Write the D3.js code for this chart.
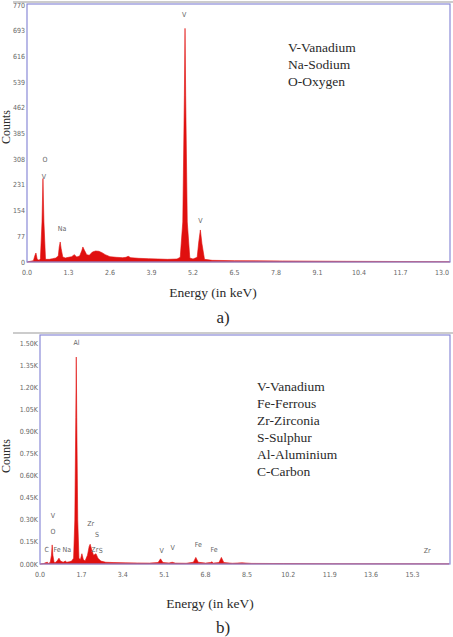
<!DOCTYPE html>
<html>
  <head>
    <meta charset="utf-8">
    <style>
      body { margin: 0; background: white; }
      .tick { font-family: "Liberation Sans Narrow", "DejaVu Sans Condensed", sans-serif; font-size: 7px; fill: #666; }
      .title { font-family: "Liberation Serif", "DejaVu Serif", serif; fill: #2a2a2a; }
      .pk { font-family: "Liberation Sans Narrow", "DejaVu Sans Condensed", sans-serif; font-size: 7px; fill: #666; }
    </style>
  </head>
  <body>
    <div id="chart"></div>
    <script src="https://d3js.org/d3.v7.min.js"></script>
    <script>
      // panel a spectrum [keV, counts]
      var specA = [
        [0.0,0],[0.1,2],[0.2,4],[0.25,20],[0.28,27],[0.32,8],[0.38,5],[0.42,10],[0.47,120],[0.5,250],
        [0.53,120],[0.58,8],[0.7,8],[0.8,10],[0.9,12],[0.98,18],[1.01,45],[1.04,60],[1.07,40],[1.12,15],
        [1.2,12],[1.3,14],[1.4,16],[1.48,22],[1.56,15],[1.65,18],[1.72,35],[1.75,45],[1.8,35],[1.87,22],
        [1.95,20],[2.05,30],[2.15,33],[2.25,32],[2.35,28],[2.45,22],[2.6,16],[2.8,14],[3.0,13],[3.1,14],
        [3.17,17],[3.25,13],[3.5,11],[3.8,10],[4.1,9],[4.4,8],[4.7,9],[4.8,14],[4.88,120],[4.93,500],
        [4.95,700],[4.97,500],[5.02,120],[5.1,12],[5.2,9],[5.33,14],[5.38,60],[5.43,96],[5.48,55],[5.56,8],
        [5.8,5],[6.5,4],[8,3],[10,2],[13.25,1]
      ];
      var peaksA = [
        {t:"V", e:4.92, c:735}, {t:"O", e:0.56, c:300}, {t:"V", e:0.53, c:250},
        {t:"Na", e:1.1, c:92}, {t:"V", e:5.43, c:118}
      ];
      var legendA = ["V-Vanadium", "Na-Sodium", "O-Oxygen"];
      var xTicksA = [0, 1.3, 2.6, 3.9, 5.2, 6.5, 7.8, 9.1, 10.4, 11.7, 13.0];
      var yTicksA = [0, 77, 154, 231, 308, 385, 462, 539, 616, 693, 770];

      // panel b spectrum [keV, counts]
      var specB = [
        [0,0],[0.15,3],[0.25,10],[0.3,12],[0.35,5],[0.42,10],[0.47,60],[0.5,130],[0.53,60],[0.58,10],
        [0.65,12],[0.72,25],[0.78,40],[0.84,20],[0.95,12],[1.04,20],[1.1,12],[1.2,15],[1.3,20],[1.38,40],
        [1.43,300],[1.47,1000],[1.49,1410],[1.51,1000],[1.55,300],[1.6,40],[1.66,30],[1.72,70],[1.78,30],
        [1.85,20],[1.95,60],[2.02,120],[2.06,135],[2.12,100],[2.2,60],[2.3,70],[2.38,40],[2.5,20],[2.7,12],
        [3,10],[3.5,8],[4,7],[4.5,6],[4.85,10],[4.95,35],[5.05,10],[5.3,7],[5.43,12],[5.55,6],[6.0,5],
        [6.3,12],[6.4,45],[6.5,12],[6.8,6],[7.0,10],[7.06,15],[7.12,6],[7.35,10],[7.45,45],[7.55,10],
        [7.9,5],[8.3,8],[8.7,4],[10,3],[12,2],[16.8,1]
      ];
      var peaksB = [
        {t:"Al", e:1.5, c:1495}, {t:"V", e:0.53, c:310}, {t:"O", e:0.53, c:205}, {t:"C", e:0.28, c:80},
        {t:"Fe", e:0.7, c:85}, {t:"Na", e:1.1, c:80}, {t:"Zr", e:2.08, c:260}, {t:"S", e:2.34, c:185},
        {t:"Zr", e:2.25, c:80}, {t:"S", e:2.5, c:75}, {t:"V", e:5.0, c:75}, {t:"V", e:5.45, c:95},
        {t:"Fe", e:6.5, c:115}, {t:"Fe", e:7.15, c:80}, {t:"Zr", e:15.9, c:75}
      ];
      var legendB = ["V-Vanadium", "Fe-Ferrous", "Zr-Zirconia", "S-Sulphur", "Al-Aluminium", "C-Carbon"];
      var xTicksB = [0, 1.7, 3.4, 5.1, 6.8, 8.5, 10.2, 11.9, 13.6, 15.3];
      var yTicksB = [0, 150, 300, 450, 600, 750, 900, 1050, 1200, 1350, 1500];

      var svg = d3.select("#chart").append("svg")
        .attr("width", 453).attr("height", 637)
        .style("background", "white");

      function panel(o) {
        var x = d3.scaleLinear().domain([0, o.xmax]).range([o.left, 450]);
        var y = d3.scaleLinear().domain([0, o.ymax]).range([o.bottom, o.top]);
        var g = svg.append("g");

        // outer gray line
        g.append("line").attr("x1", 13).attr("x2", 453)
          .attr("y1", o.top - 2).attr("y2", o.top - 2)
          .attr("stroke", "#bbb").attr("stroke-width", 1.5);

        var area = d3.area().x(function(d){ return x(d[0]); })
          .y0(y(0)).y1(function(d){ return y(d[1]); });
        g.append("path").datum(o.spec).attr("d", area)
          .attr("fill", "#e0100f").attr("stroke", "#e0100f").attr("stroke-width", 0.6);

        // frame
        g.append("rect").attr("x", o.left).attr("y", o.top)
          .attr("width", 450 - o.left).attr("height", o.bottom - o.top)
          .attr("fill", "none").attr("stroke", "#8a8ad8").attr("stroke-width", 1.2);

        g.selectAll(".xt").data(o.xticks).enter().append("text")
          .attr("class", "tick").attr("x", function(d){ return x(d); })
          .attr("y", o.bottom + 13).attr("text-anchor", "middle")
          .text(function(d){ return d.toFixed(1); });
        g.selectAll(".yt").data(o.yticks).enter().append("text")
          .attr("class", "tick").attr("x", o.left - 2)
          .attr("y", function(d){ return y(d) + 2.5; }).attr("text-anchor", "end")
          .text(o.yfmt);

        g.selectAll(".pk").data(o.peaks).enter().append("text")
          .attr("class", "pk").attr("x", function(d){ return x(d.e); })
          .attr("y", function(d){ return y(d.c); }).attr("text-anchor", "middle")
          .text(function(d){ return d.t; });

        g.selectAll(".lg").data(o.legend).enter().append("text")
          .attr("class", "title").style("font-size", "13.5px")
          .attr("x", o.lx).attr("y", function(d, i){ return o.ly + i * o.lstep; })
          .text(function(d){ return d; });

        g.append("text").attr("class", "title").style("font-size", "12px")
          .attr("transform", "translate(10," + o.cy + ") rotate(-90)")
          .attr("text-anchor", "middle").text("Counts");
        g.append("text").attr("class", "title").style("font-size", "13.5px")
          .attr("x", o.ex).attr("y", o.ey).attr("text-anchor", "middle").text("Energy (in keV)");
        g.append("text").attr("class", "title").style("font-size", "17px")
          .attr("x", 223).attr("y", o.ly2).attr("text-anchor", "middle").text(o.tag);
      }

      panel({spec: specA, peaks: peaksA, legend: legendA, xticks: xTicksA, yticks: yTicksA,
        xmax: 13.25, ymax: 773, left: 27, top: 4, bottom: 262,
        yfmt: function(d){ return d; }, lx: 288, ly: 52, lstep: 17,
        cy: 127, ex: 213, ey: 297, ly2: 323, tag: "a)"});

      panel({spec: specB, peaks: peaksB, legend: legendB, xticks: xTicksB, yticks: yTicksB,
        xmax: 16.84, ymax: 1560, left: 40, top: 335, bottom: 564,
        yfmt: function(d){ return (d / 1000).toFixed(2) + "K"; }, lx: 257, ly: 391, lstep: 17,
        cy: 456, ex: 210, ey: 608, ly2: 633, tag: "b)"});
    </script>
  </body>
</html>
